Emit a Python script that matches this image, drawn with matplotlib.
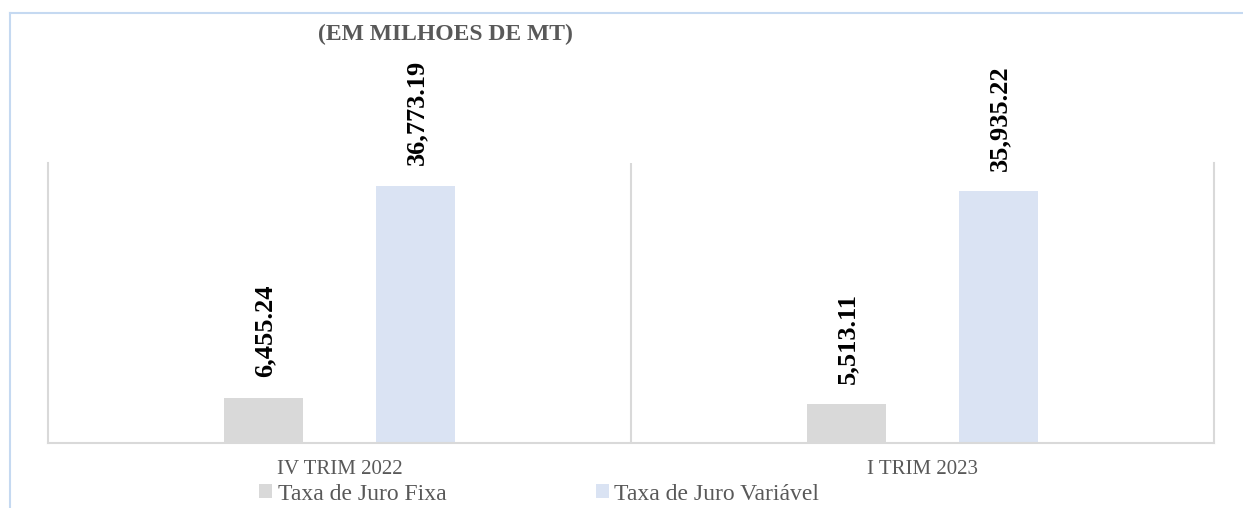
import matplotlib.pyplot as plt
from matplotlib.lines import Line2D
import numpy as np

categories = ["IV TRIM 2022", "I TRIM 2023"]
fixa = [6455.24, 5513.11]
variavel = [36773.19, 35935.22]
series_names = ["Taxa de Juro Fixa", "Taxa de Juro Variável"]

plt.rcParams['font.family'] = ['Liberation Serif', 'DejaVu Serif']

fig = plt.figure(figsize=(12.43, 5.08), dpi=100)
ax = fig.add_axes([48 / 1243, 65 / 508, (1214 - 48) / 1243, 280 / 508])

x = np.arange(len(categories))
w = 0.136
off = 0.13
b1 = ax.bar(x - off, fixa, w, color="#D9D9D9", label=series_names[0])
b2 = ax.bar(x + off, variavel, w, color="#DAE3F3", label=series_names[1])

for bars, vals in [(b1, fixa), (b2, variavel)]:
    for r, v in zip(bars, vals):
        ax.annotate(f"{v:,.2f}", (r.get_x() + r.get_width() / 2, v),
                    xytext=(1, 15), textcoords="offset points",
                    rotation=90, ha="center", va="bottom",
                    fontsize=19, fontweight="bold", color="black")

ax.set_xlim(-0.5, 1.5)
ax.set_ylim(0, 40000)
ax.axvline(0.5, color="#D9D9D9", lw=1.5)
for s in ["left", "right", "bottom"]:
    ax.spines[s].set_color("#D9D9D9")
    ax.spines[s].set_linewidth(1.5)
ax.spines["top"].set_visible(False)
ax.set_yticks([])
ax.set_xticks(x)
ax.set_xticklabels(categories, fontsize=15, color="#595959")
ax.tick_params(axis="x", length=0, pad=12)

fig.text(445 / 1243, 1 - 34 / 508, "(EM MILHOES DE MT)", ha="center", va="center",
         fontsize=17, fontweight="bold", color="#595959")

fig.legend(handles=[b1, b2], loc="center left", bbox_to_anchor=(238 / 1243, 1 - 494 / 508),
           ncol=2, frameon=False, fontsize=17, handlelength=0.55, handleheight=0.55,
           handletextpad=0.25, columnspacing=6.3, labelcolor="#595959")

# outer frame
fig.add_artist(Line2D([10 / 1243, 10 / 1243], [0, 1 - 13 / 508], color="#C5D9F1", lw=1.5))
fig.add_artist(Line2D([10 / 1243, 1], [1 - 13 / 508, 1 - 13 / 508], color="#C5D9F1", lw=1.5))

fig.savefig("out.png", dpi=100)
